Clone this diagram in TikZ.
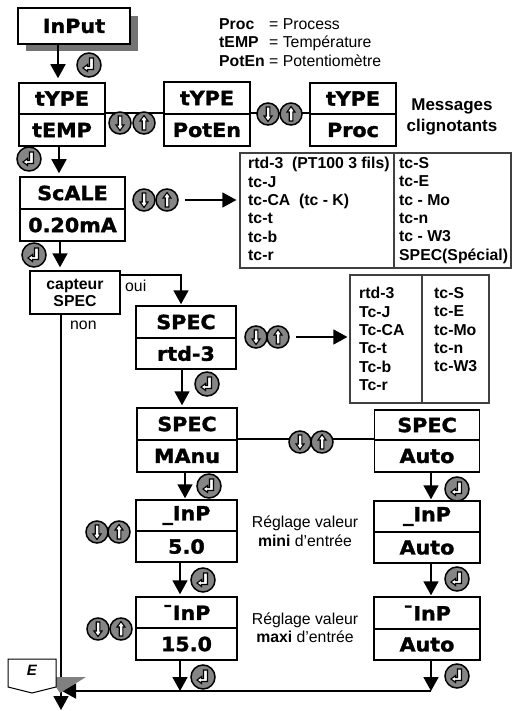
\documentclass[tikz,border=0pt]{standalone}
\usepackage{fontspec}
\setmainfont{Liberation Sans}
\newfontface\dispfont{DejaVu Sans Bold}[FakeStretch=1.06,FakeBold=1.6]
\usepackage{tikz}
\usetikzlibrary{arrows.meta,positioning,calc}
\definecolor{keyGray}{HTML}{858585}
\definecolor{tagGray}{HTML}{808080}
\tikzset{
  dispbox/.style={draw=black,fill=white,line width=1.5pt,inner sep=0pt,font=\dispfont\fontsize{19.5}{19.5}\selectfont},
  flow/.style={line width=1.8pt,-{Triangle[length=14pt,width=15pt]}},
  link/.style={line width=1.6pt},
  tablebox/.style={draw=black!75,line width=1.2pt,inner sep=0pt},
  tablecol/.style={anchor=north west,align=left,inner sep=0pt,font=\fontsize{15.8}{18.4}\selectfont\bfseries},
  enterkey/.style={circle,draw=black,fill=keyGray,line width=1.5pt,minimum size=24pt,inner sep=0pt,
    path picture={
      \draw[fill=white,line width=1.1pt,shift={(path picture bounding box.center)}]
        (0.5,-7) -- (4.5,-7) -- (4.5,4.5) -- (-1.5,4.5) -- (-1.5,6.5) -- (-6,3) -- (-1.5,-0.5) -- (-1.5,1.5) -- (0.5,1.5) -- cycle;
    }},
  downkey/.style={circle,draw=black,fill=keyGray,line width=1.5pt,minimum size=22pt,inner sep=0pt,
    path picture={
      \draw[fill=white,line width=1.1pt,shift={(path picture bounding box.center)}]
        (-1.8,-7) -- (1.8,-7) -- (1.8,2) -- (4,2) -- (0,7.5) -- (-4,2) -- (-1.8,2) -- cycle;
    }},
  upkey/.style={circle,draw=black,fill=keyGray,line width=1.5pt,minimum size=22pt,inner sep=0pt,
    path picture={
      \draw[fill=white,line width=1.1pt,shift={(path picture bounding box.center)}]
        (-1.8,7) -- (1.8,7) -- (1.8,-2) -- (4,-2) -- (0,-7.5) -- (-4,-2) -- (-1.8,-2) -- cycle;
    }},
}
\begin{document}
\begin{tikzpicture}[x=1pt,y=-1pt,>=Stealth]
\useasboundingbox (0,0) rectangle (512,711);
% input
\fill[black!55] (26,16) rectangle (138,51);
\node[dispbox,minimum width=112pt,minimum height=36pt] (inputbox) at (74,26) {InPut};
% type row
\node[dispbox,minimum width=86pt,minimum height=31pt] (typeT) at (62,98.5) {tYPE};
\node[dispbox,minimum width=86pt,minimum height=32pt] (tempT) at (62,130) {tEMP};
\node[dispbox,minimum width=86pt,minimum height=32pt] (typeP) at (207,98) {tYPE};
\node[dispbox,minimum width=86pt,minimum height=32pt] (potenP) at (207,130) {PotEn};
\node[dispbox,minimum width=86pt,minimum height=31pt] (typeR) at (353,98.5) {tYPE};
\node[dispbox,minimum width=86pt,minimum height=32pt] (procR) at (353,130) {Proc};
% scale
\node[dispbox,minimum width=105pt,minimum height=32pt] (scaleS) at (72.5,193) {ScALE};
\node[dispbox,minimum width=105pt,minimum height=32pt] (scaleV) at (72.5,225) {0.20mA};
% capteur
\node[draw=black,line width=1.3pt,minimum width=90pt,minimum height=43pt,align=center,inner sep=0pt,
  font=\fontsize{15.8}{17}\selectfont\bfseries] (capteur) at (75,292.5) {capteur\\SPEC};
% spec column
\node[dispbox,minimum width=100pt,minimum height=32pt] (specA) at (186,322) {SPEC};
\node[dispbox,minimum width=100pt,minimum height=31pt] (rtdA) at (186,353.5) {rtd-3};
\node[dispbox,minimum width=100pt,minimum height=32pt] (specM) at (187,424) {SPEC};
\node[dispbox,minimum width=100pt,minimum height=32pt] (manu) at (187,456) {MAnu};
\node[dispbox,minimum width=101pt,minimum height=31pt] (inLo) at (186.5,515.5) {\_InP};
\node[dispbox,minimum width=101pt,minimum height=31pt] (inLoV) at (186.5,546.5) {5.0};
\node[dispbox,minimum width=101pt,minimum height=31pt] (inHi) at (186.5,612.5) {¯InP};
\node[dispbox,minimum width=101pt,minimum height=32pt] (inHiV) at (186.5,644) {15.0};
% auto column
\node[dispbox,minimum width=105pt,minimum height=30pt] (specR) at (427,425) {SPEC};
\node[dispbox,minimum width=105pt,minimum height=32pt] (autoR) at (427,456) {Auto};
\node[dispbox,minimum width=106pt,minimum height=31pt] (inLoR) at (427,516.5) {\_InP};
\node[dispbox,minimum width=106pt,minimum height=31pt] (inLoA) at (427,547.5) {Auto};
\node[dispbox,minimum width=106pt,minimum height=32pt] (inHiR) at (427,613) {¯InP};
\node[dispbox,minimum width=106pt,minimum height=31pt] (inHiA) at (427,644.5) {Auto};
% tables
\node[tablebox,minimum width=271pt,minimum height=115pt] (tabA) at (375.5,210.5) {};
\draw[black!75,line width=1.2pt] (394,153) -- (394,268);
\node[tablecol] (tabAl) at (248,157) {rtd-3~~(PT100 3 fils)\\tc-J\\tc-CA~~(tc - K)\\tc-t\\tc-b\\tc-r};
\node[tablecol] (tabAr) at (399,157) {tc-S\\tc-E\\tc - Mo\\tc-n\\tc - W3\\SPEC(Spécial)};
\node[tablebox,minimum width=139pt,minimum height=128pt] (tabB) at (419.5,339) {};
\draw[black!75,line width=1.2pt] (422,275) -- (422,403);
\node[tablecol] (tabBl) at (359,287) {rtd-3\\Tc-J\\Tc-CA\\Tc-t\\Tc-b\\Tc-r};
\node[tablecol] (tabBr) at (434,287) {tc-S\\tc-E\\tc-Mo\\tc-n\\tc-W3};
% links with keys
\draw[link] (tempT.north east) -- (potenP.north west);
\draw[link] (potenP.north east) -- (procR.north west);
\draw[link] (manu.north east) -- (autoR.north west);
\node[downkey] (dkA) at (120,123) {};
\node[upkey] (ukA) at (144,123) {};
\node[downkey] (dkB) at (268,114) {};
\node[upkey] (ukB) at (291,114) {};
\node[downkey] (dkC) at (144,200) {};
\node[upkey] (ukC) at (167,200) {};
\node[downkey] (dkD) at (256,337) {};
\node[upkey] (ukD) at (278,337) {};
\node[downkey] (dkE) at (300,442) {};
\node[upkey] (ukE) at (322,442) {};
\node[downkey] (dkF) at (97,532) {};
\node[upkey] (ukF) at (119,532) {};
\node[downkey] (dkG) at (98,629) {};
\node[upkey] (ukG) at (121,629) {};
\draw[line width=1.3pt,-{Triangle[length=14pt,width=15pt]}] ([xshift=6pt]ukC.east) -- ([xshift=-3pt]tabA.west |- ukC);
\draw[line width=1.3pt,-{Triangle[length=14pt,width=15pt]}] ([xshift=6pt]ukD.east) -- ([xshift=-2pt]tabB.west |- ukD);
% enter keys
\node[enterkey] (enA) at (89,65) {};
\node[enterkey] (enB) at (29,159) {};
\node[enterkey] (enC) at (34,255) {};
\node[enterkey] (enD) at (207,384) {};
\node[enterkey] (enE) at (209,486) {};
\node[enterkey] (enF) at (203,580) {};
\node[enterkey] (enG) at (203,677) {};
\node[enterkey] (enH) at (457,489) {};
\node[enterkey] (enI) at (457,579) {};
\node[enterkey] (enJ) at (457,676) {};
% flow
\draw[flow] ([xshift=-16pt]inputbox.south) -- ([xshift=-4pt,yshift=4pt]typeT.north);
\draw[flow] ([xshift=-3pt]tempT.south) -- ([xshift=-13.5pt,yshift=3pt]scaleS.north);
\draw[flow] ([xshift=-12.5pt]scaleV.south) -- ([xshift=-15pt,yshift=3pt]capteur.north);
\draw[flow] ([yshift=-5pt]capteur.north east) -| ([xshift=-5pt,yshift=1pt]specA.north);
\draw[flow] ([xshift=-4pt]rtdA.south) -- ([xshift=-5pt,yshift=2pt]specM.north);
\draw[flow] ([xshift=-2pt]manu.south) -- ([xshift=-1.5pt,yshift=1pt]inLo.north);
\draw[flow] ([xshift=-6.5pt]inLoV.south) -- ([xshift=-6.5pt,yshift=2pt]inHi.north);
\draw[flow] ([xshift=4pt]autoR.south) -- ([xshift=4pt,yshift=1pt]inLoR.north);
\draw[flow] ([xshift=4pt]inLoA.south) -- ([xshift=4pt,yshift=1pt]inHiR.north);
\coordinate (joinR) at (431,691);
\coordinate (joinL) at (62,691);
\coordinate (outEnd) at (61,710);
\draw[flow] ([xshift=4pt]inHiA.south) -- (joinR);
\draw[flow] (joinR) -- (joinL);
\draw[flow] ([xshift=-6.5pt]inHiV.south) -- ([xshift=-6.5pt]inHiV.south |- joinR);
\draw[flow] ([xshift=-14pt]capteur.south) -- (outEnd);
% exit tag
\fill[tagGray] (56,677) -- (86,677) -- (60,693) -- (56,687) -- cycle;
\draw[fill=white,line width=1pt] (8,659) -- (56,659) -- (56,687) -- (32,693) -- (8,687) -- cycle;
\node[font=\fontsize{15}{15}\selectfont\bfseries\itshape] (tagE) at (32,670) {E};
% captions
\node[anchor=west,font=\fontsize{15.8}{18.4}\selectfont\bfseries,align=left,inner sep=0pt] (legA) at (219,42.5) {Proc\\tEMP\\PotEn};
\node[anchor=west,font=\fontsize{15.8}{18.4}\selectfont,align=left,inner sep=0pt] (legB) at (269,42.5) {= Process\\= Température\\= Potentiomètre};
\node[align=center,font=\fontsize{17}{21}\selectfont\bfseries,inner sep=0pt] (blink) at (452,116.5) {Messages\\clignotants};
\node[anchor=west,font=\fontsize{15.8}{15}\selectfont,inner sep=0pt] (oui) at (125,286) {oui};
\node[anchor=west,font=\fontsize{15.8}{15}\selectfont,inner sep=0pt] (non) at (70,325) {non};
\node[align=center,font=\fontsize{15.8}{19}\selectfont,inner sep=0pt] (capMin) at (305,531) {Réglage valeur\\\textbf{mini} d’entrée};
\node[align=center,font=\fontsize{15.8}{18}\selectfont,inner sep=0pt] (capMax) at (305,628) {Réglage valeur\\\textbf{maxi} d’entrée};
\end{tikzpicture}
\end{document}
